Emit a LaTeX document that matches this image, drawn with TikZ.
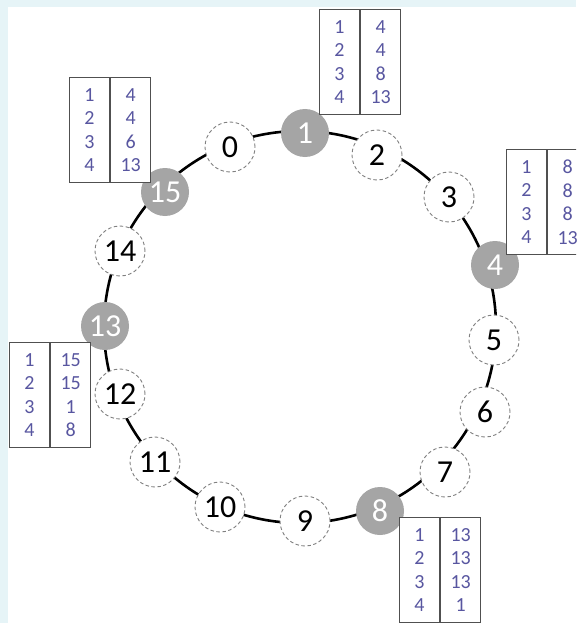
\documentclass[tikz,border=0pt]{standalone}
\usepackage{fontspec}
\setmainfont{Carlito}
\usetikzlibrary{positioning}

\definecolor{pagebg}{RGB}{230,244,247}
\definecolor{livegray}{RGB}{165,165,165}
\definecolor{dashgray}{RGB}{128,128,128}
\definecolor{fingerblue}{RGB}{88,86,160}
\definecolor{tableline}{RGB}{80,80,80}

\begin{document}
\begin{tikzpicture}[x=1pt,y=1pt,
  peer/.style={circle,draw=dashgray,dash pattern=on 3.5pt off 2.5pt,line width=0.9pt,fill=white,
    minimum size=50pt,inner sep=0pt,font=\fontsize{32}{38}\selectfont},
  live/.style={circle,fill=livegray,text=white,
    minimum size=48pt,inner sep=0pt,font=\fontsize{32}{38}\selectfont},
  fcol/.style={draw=tableline,line width=1.1pt,fill=white,
    minimum width=40pt,minimum height=105pt,inner sep=0pt,align=center,
    text=fingerblue,font=\fontsize{20}{23.5}\selectfont}]
  \useasboundingbox (0,0) rectangle (576,-623);
  \clip (0,0) rectangle (576,-623);
  \fill[pagebg] (0,0) rectangle (576,-623);
  \fill[white] (8,-7) rectangle (576,-623);

  % the ring
  \coordinate (C) at (300,-327);
  \draw[line width=2.6pt] (C) circle (196);

  % empty ids
  \foreach \n/\px/\py in {0/230/147, 2/377/155, 3/449/197, 5/494/340,
      6/485/412, 7/445/472, 9/305/521, 10/220/507, 11/155/462,
      12/120/394, 14/120/251}
    \node[peer] (n\n) at (\px,-\py) {\n};
  % ids taken by a peer
  \foreach \n/\px/\py in {1/305/133, 4/495/265, 8/380/511,
      13/105/326, 15/165/192}
    \node[live] (n\n) at (\px,-\py) {\n};

  % finger tables
  \node[fcol,anchor=north west] (f1a) at (319,-9) {1\\2\\3\\4};
  \node[fcol,right=0pt of f1a] (f1b) {4\\4\\8\\13};
  \node[fcol,anchor=north west] (f4a) at (506,-149) {1\\2\\3\\4};
  \node[fcol,right=0pt of f4a] (f4b) {8\\8\\8\\13};
  \node[fcol,anchor=north west] (f8a) at (399,-517) {1\\2\\3\\4};
  \node[fcol,right=0pt of f8a] (f8b) {13\\13\\13\\1};
  \node[fcol,anchor=north west] (f13a) at (9,-342) {1\\2\\3\\4};
  \node[fcol,right=0pt of f13a] (f13b) {15\\15\\1\\8};
  \node[fcol,anchor=north west] (f15a) at (69,-77) {1\\2\\3\\4};
  \node[fcol,right=0pt of f15a] (f15b) {4\\4\\6\\13};
\end{tikzpicture}
\end{document}
